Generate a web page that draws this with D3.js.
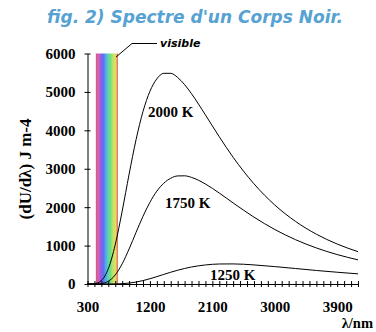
<!DOCTYPE html>
<html><head><meta charset="utf-8">
<script src="https://cdn.jsdelivr.net/npm/d3@7/dist/d3.min.js"></script>
<style>body{margin:0;background:#fff}svg{display:block}</style>
</head><body><svg id="c" width="376" height="332"></svg>
<script>
// wavelengths (nm)
const wavelengths = [300,400,500,600,700,800,900,1000,1100,1200,1300,1400,1500,1600,1700,1800,2000,2200,2400,2700,3000,3300,3600,3900,4200];
// spectral energy density
const t2000 = [0,8,90,399,1023,1897,2860,3757,4490,5017,5340,5484,5484,5375,5190,4952,4402,3832,3298,2608,2057,1628,1296,1040,841];
const t1750 = [0,1,12,72,236,525,913,1344,1762,2127,2417,2624,2753,2813,2816,2775,2603,2367,2110,1741,1419,1153,938,766,629];
const t1250 = [0,0,0,0,2,9,24,50,89,137,192,250,306,358,404,443,496,521,523,497,453,403,352,306,264];
const seriesNames = ["2000 K","1750 K","1250 K"];
const seriesLabelPos = [[1172,4347],[1417,1978],[2066,104]]; // data coords of labels
const visibleRange = [420, 740];
const xTickLabels = [300,1200,2100,3000,3900];
const yTicks = [0,1000,2000,3000,4000,5000,6000];
const bandColors = ["#d65c5c","#d45fc4","#9a5ce0","#5f6cf0","#55a4ee","#58d6b0","#72e07a","#c4e264","#e6da6a","#dc6e58"];

const svg = d3.select("#c");
const x = d3.scaleLinear().domain([300,4200]).range([87.5,358]);
const y = d3.scaleLinear().domain([0,6000]).range([284,53.5]);

// title
svg.append("text").attr("x",195).attr("y",23).attr("text-anchor","middle")
  .attr("font-family","DejaVu Sans").attr("font-weight","bold").attr("font-style","italic")
  .attr("font-size",17).attr("fill","#56a2d2").text("fig. 2) Spectre d'un Corps Noir.");

// visible band gradient
const defs = svg.append("defs");
const grad = defs.append("linearGradient").attr("id","vis").attr("x1","0").attr("x2","1").attr("y1","0").attr("y2","0");
bandColors.forEach((c,i)=>grad.append("stop").attr("offset",i/(bandColors.length-1)).attr("stop-color",c));
svg.append("rect").attr("x",x(visibleRange[0])).attr("y",y(6000))
  .attr("width",x(visibleRange[1])-x(visibleRange[0])).attr("height",y(0)-y(6000))
  .attr("fill","url(#vis)");

// axes
const xAxis = d3.axisBottom(x).tickValues(d3.range(300,4201,100))
  .tickFormat(d=>xTickLabels.includes(d)?String(d):"").tickSize(3).tickSizeOuter(0);
const gx = svg.append("g").attr("transform","translate(0,284)").call(xAxis);
gx.selectAll(".tick line").attr("y1",-3).attr("y2",3).attr("stroke","#000");
gx.select(".domain").attr("stroke","#000");
gx.selectAll("text").attr("y",28).attr("dy",0).attr("font-family","Liberation Serif")
  .attr("font-weight","bold").attr("font-size",15).attr("fill","#000");

const yAxis = d3.axisLeft(y).tickValues(yTicks).tickFormat(d3.format("d")).tickSize(3).tickSizeOuter(0);
const gy = svg.append("g").attr("transform","translate(87.5,0)").call(yAxis);
gy.selectAll(".tick line").attr("x1",-3).attr("x2",3).attr("stroke","#000");
gy.select(".domain").attr("stroke","#000");
gy.selectAll("text").attr("x",-12).attr("dy","0.33em").attr("font-family","Liberation Serif")
  .attr("font-weight","bold").attr("font-size",15).attr("fill","#000");

// curves
const line = d3.line().x((d,i)=>x(wavelengths[i])).y(d=>y(d)).curve(d3.curveMonotoneX);
[t2000,t1750,t1250].forEach(s=>{
  svg.append("path").attr("d",line(s)).attr("fill","none").attr("stroke","#000").attr("stroke-width",1);
});

// series labels
seriesNames.forEach((n,i)=>{
  svg.append("text").attr("x",x(seriesLabelPos[i][0])).attr("y",y(seriesLabelPos[i][1]))
    .attr("font-family","Liberation Serif").attr("font-weight","bold").attr("font-size",15).text(n);
});

// visible annotation
svg.append("path").attr("d","M116,57 L132,43.5 L157,43.5").attr("fill","none").attr("stroke","#000").attr("stroke-width",1);
svg.append("text").attr("x",160).attr("y",47).attr("font-family","DejaVu Sans").attr("font-weight","bold")
  .attr("font-style","italic").attr("font-size",11).text("visible");

// axis titles
svg.append("text").attr("transform","translate(31,169) rotate(-90)").attr("text-anchor","middle")
  .attr("font-family","Liberation Serif").attr("font-weight","bold").attr("font-size",17).text("(dU/dλ) J m-4");
svg.append("text").attr("x",373).attr("y",328).attr("text-anchor","end")
  .attr("font-family","Liberation Serif").attr("font-weight","bold").attr("font-size",14.5).text("λ/nm");
</script></body></html>
